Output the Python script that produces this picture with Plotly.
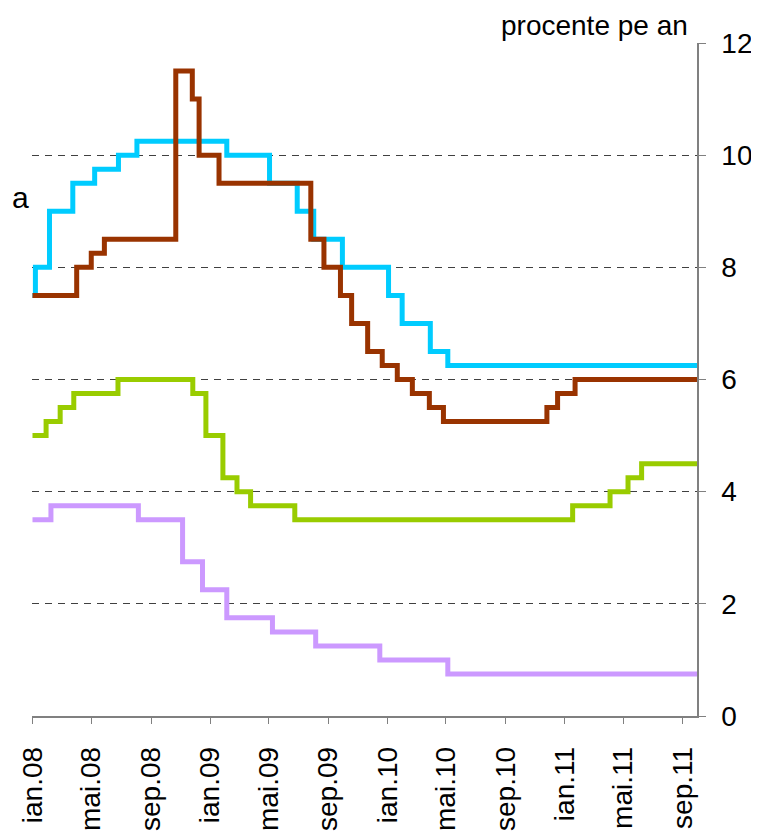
import plotly.graph_objects as go

# ---- data (step series, percent per year) ----
brown_dates = ["2008-01-01", "2008-04-01", "2008-05-01", "2008-05-28", "2008-10-22",
               "2008-11-25", "2008-12-09", "2009-01-19", "2009-07-27", "2009-08-23",
               "2009-09-26", "2009-10-19", "2009-11-21", "2009-12-21", "2010-01-21",
               "2010-02-21", "2010-03-28", "2010-04-26", "2010-11-25", "2010-12-17",
               "2011-01-22", "2011-09-30"]
brown_values = [7.5, 8.0, 8.25, 8.5, 11.5, 11.0, 10.0, 9.5, 8.5, 8.0, 7.5, 7.0, 6.5,
                6.25, 6.0, 5.75, 5.5, 5.25, 5.5, 5.75, 6.0, 6.0]

cyan_dates = ["2008-01-01", "2008-01-07", "2008-02-05", "2008-03-24", "2008-05-08",
              "2008-06-26", "2008-08-03", "2009-02-04", "2009-05-03", "2009-06-29",
              "2009-08-02", "2009-09-30", "2010-01-03", "2010-01-31", "2010-03-30",
              "2010-05-05", "2011-09-30"]
cyan_values = [7.5, 8.0, 9.0, 9.5, 9.75, 10.0, 10.25, 10.0, 9.5, 9.0, 8.5, 8.0, 7.5,
               7.0, 6.5, 6.25, 6.25]

green_dates = ["2008-01-01", "2008-01-29", "2008-02-27", "2008-03-26", "2008-06-25",
               "2008-11-26", "2008-12-23", "2009-01-27", "2009-02-25", "2009-03-25",
               "2009-06-24", "2011-01-17", "2011-04-04", "2011-05-11", "2011-06-08",
               "2011-09-30"]
green_values = [5.0, 5.25, 5.5, 5.75, 6.0, 5.75, 5.0, 4.25, 4.0, 3.75, 3.5, 3.75, 4.0,
                4.25, 4.5, 4.5]

purple_dates = ["2008-01-01", "2008-02-08", "2008-08-06", "2008-11-05", "2008-12-16",
                "2009-02-04", "2009-05-09", "2009-08-06", "2009-12-16", "2010-05-05",
                "2011-09-30"]
purple_values = [3.5, 3.75, 3.5, 2.75, 2.25, 1.75, 1.5, 1.25, 1.0, 0.75, 0.75]

tick_dates = ["2008-01-01", "2008-05-01", "2008-09-01", "2009-01-01", "2009-05-01",
              "2009-09-01", "2010-01-01", "2010-05-01", "2010-09-01", "2011-01-01",
              "2011-05-01", "2011-09-01"]
tick_labels = ["ian.08", "mai.08", "sep.08", "ian.09", "mai.09", "sep.09", "ian.10",
               "mai.10", "sep.10", "ian.11", "mai.11", "sep.11"]

FONT = "Liberation Sans, Arial, sans-serif"

fig = go.Figure()
series = [
    (purple_dates, purple_values, "#CC99FF"),
    (green_dates, green_values, "#99CC00"),
    (cyan_dates, cyan_values, "#00CCFF"),
    (brown_dates, brown_values, "#993300"),
]
for d, v, c in series:
    fig.add_trace(go.Scatter(x=d, y=v, mode="lines",
                             line=dict(color=c, width=5, shape="hv"),
                             showlegend=False, hoverinfo="skip"))

fig.update_layout(
    width=751, height=829,
    margin=dict(l=24, r=62, t=35, b=121, autoexpand=False),
    paper_bgcolor="white", plot_bgcolor="white",
    font=dict(family=FONT, color="black", size=27),
    xaxis=dict(
        type="date", range=["2007-12-31", "2011-09-30"], automargin=False,
        tickvals=tick_dates, ticktext=tick_labels, tickangle=-90,
        ticks="outside", ticklen=6, tickwidth=1, tickcolor="#808080",
        showline=True, linecolor="#808080", linewidth=1.5,
        showgrid=False, zeroline=False, ticklabelstandoff=12,
        tickfont=dict(family=FONT, size=28),
    ),
    yaxis=dict(
        side="right", range=[0, 12], tickvals=[0, 2, 4, 6, 8, 10, 12],
        automargin=False,
        ticks="outside", ticklen=7, tickwidth=1, tickcolor="#808080",
        showline=True, linecolor="#808080", linewidth=1.5,
        showgrid=True, gridcolor="#404040", gridwidth=1.2, griddash="7px,6px",
        zeroline=False, ticklabelstandoff=10,
        tickfont=dict(family=FONT, size=28),
    ),
    annotations=[
        dict(text="procente pe an", xref="paper", yref="paper",
             x=0.9895, y=1.026, xanchor="right", yanchor="middle",
             showarrow=False, font=dict(family=FONT, size=28)),
        dict(text="a", xref="paper", yref="y", x=-0.033, y=9.25,
             xanchor="left", yanchor="middle", showarrow=False,
             font=dict(family=FONT, size=30)),
    ],
)

fig.write_html("out.html")
